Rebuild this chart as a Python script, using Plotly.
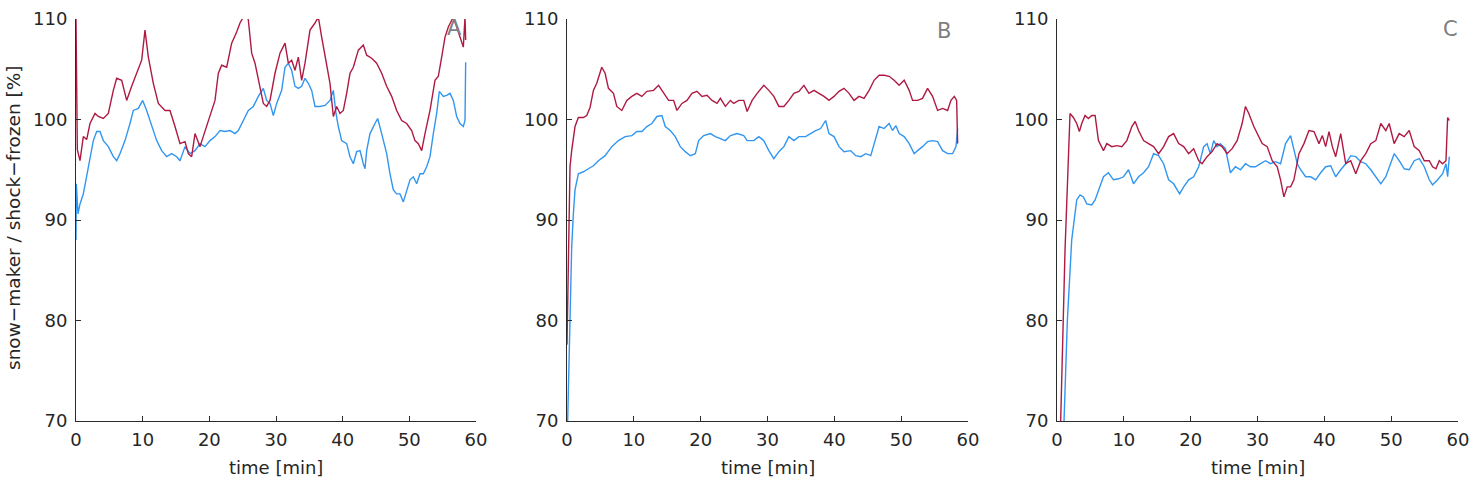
import plotly.graph_objects as go

# ---------------- data (time in minutes, values in %) ----------------
a_red_t = [0, 0.2, 0.6, 1.1, 1.6, 2.1, 2.85, 3.35, 4.1, 4.85, 5.6, 6.1, 6.85, 7.6, 8.35, 9.1, 9.85, 10.35,
           10.85, 11.6, 12.35, 13.35, 14.1, 14.85, 15.6, 16.35, 16.85, 17.35, 17.85, 18.6, 19.35, 20.1,
           20.85, 21.35, 21.85, 22.6, 23.35, 24.1, 24.6, 25.1, 25.6, 25.85, 26.35, 26.85, 27.35, 28.1,
           28.6, 29.1, 29.85, 30.6, 31.35, 31.85, 32.35, 32.85, 33.35, 33.85, 34.35, 35.1, 35.85, 36.35,
           36.85, 37.35, 38.1, 38.6, 39.1, 39.6, 40.1, 40.6, 41.1, 41.6, 42.35, 43.1, 43.6, 44.35, 45.1,
           45.85, 46.6, 47.35, 48.1, 48.85, 49.6, 50.35, 50.85, 51.35, 51.85, 52.35, 53.1, 53.85, 54.35,
           54.85, 55.35, 55.85, 56.6, 57.6, 58.1, 58.35, 58.45]
a_red_v = [110, 97, 95.9, 98.3, 98, 99.6, 100.6, 100.3, 100.1, 100.6, 102.9, 104.1, 103.9, 101.9, 103.3,
           104.6, 105.9, 108.9, 106.2, 103.6, 101.6, 100.9, 100.9, 99.3, 97.6, 97.8, 96.6, 96.3, 98.6,
           97.3, 98.9, 100.3, 101.9, 104.6, 105.4, 105.2, 107.6, 108.7, 109.6, 110.2, 110.6, 109.9,
           106.6, 105.6, 103.9, 101.6, 101.3, 101.9, 104.6, 106.6, 107.6, 105.6, 105.9, 104.9, 106.2,
           103.9, 105.6, 108.9, 109.6, 110.2, 108.2, 106.2, 103.6, 100.3, 101.3, 100.6, 100.9, 102.6,
           104.6, 105.2, 106.9, 107.4, 106.4, 106.1, 105.6, 104.6, 103.3, 102.3, 100.9, 99.9, 99.6, 98.9,
           97.9, 97.6, 96.9, 98.6, 100.9, 103.9, 104.3, 106.2, 108.2, 109.2, 110.2, 108.2, 107.2, 110.2,
           107.9]

a_blue_t = [0, 0.05, 0.3, 0.6, 1.1, 1.6, 2.1, 2.6, 3.1, 3.6, 4.1, 4.85, 5.6, 6.1, 6.6, 7.35, 8.1, 8.6, 9.35,
            10.0, 10.6, 11.35, 12.1, 12.85, 13.6, 14.35, 15.1, 15.6, 16.35, 17.1, 17.85, 18.6, 19.35,
            20.1, 20.85, 21.6, 22.35, 23.1, 23.85, 24.35, 25.1, 25.85, 26.6, 27.35, 28.1, 28.6, 29.1,
            29.6, 30.1, 30.85, 31.35, 31.85, 32.35, 32.85, 33.35, 33.85, 34.35, 34.85, 35.35, 35.85,
            36.6, 37.35, 38.1, 38.6, 39.0, 39.35, 39.85, 40.6, 41.1, 41.6, 42.1, 42.6, 43.1, 43.35, 43.6,
            44.1, 44.85, 45.25, 45.85, 46.6, 47.1, 47.6, 48.1, 48.6, 49.1, 49.6, 50.1, 50.6, 51.1, 51.6,
            52.1, 52.6, 53.1, 53.6, 54.1, 54.5, 55.1, 55.6, 56.1, 56.6, 57.1, 57.6, 58.1, 58.35, 58.45]
a_blue_v = [88, 93.6, 90.6, 91.6, 92.6, 94.3, 96.3, 97.9, 98.8, 98.8, 97.9, 97.3, 96.3, 95.9, 96.6, 97.9,
            99.6, 100.9, 101.1, 101.9, 100.9, 99.3, 97.9, 96.9, 96.3, 96.6, 96.3, 95.9, 97.3, 96.6, 96.9,
            97.6, 97.3, 97.9, 98.3, 98.9, 98.8, 98.9, 98.6, 98.9, 99.9, 100.9, 101.3, 102.3, 103.1,
            101.9, 101.6, 100.4, 101.6, 102.9, 105.2, 105.6, 104.9, 103.3, 103.1, 103.3, 104.1, 103.6,
            102.9, 101.3, 101.3, 101.4, 101.9, 102.9, 100.6, 99.3, 97.9, 97.6, 96.3, 95.6, 96.8, 96.9,
            95.6, 95.1, 96.9, 98.6, 99.6, 100.1, 98.6, 96.6, 94.6, 93.0, 92.6, 92.6, 91.8, 93.0, 94.0,
            94.3, 93.6, 94.6, 94.6, 95.3, 96.3, 98.6, 100.6, 102.8, 102.3, 102.4, 102.6, 101.9, 100.3,
            99.6, 99.3, 99.9, 105.7]

b_red_t = [0, 0.45, 0.7, 1.2, 1.7, 2.45, 2.95, 3.45, 3.95, 4.45, 5.2, 5.7, 6.2, 6.95, 7.45, 8.2, 8.95,
           9.7, 10.45, 11.2, 11.95, 12.95, 13.7, 14.45, 15.2, 15.95, 16.45, 17.2, 17.95, 18.7, 19.45,
           20.2, 20.95, 21.7, 22.45, 22.95, 23.7, 24.45, 24.95, 25.7, 26.45, 26.95, 27.7, 28.45, 29.45,
           30.2, 30.95, 31.7, 32.45, 33.2, 33.95, 34.7, 35.45, 36.2, 36.95, 37.7, 38.45, 39.2, 39.95,
           40.7, 41.45, 42.2, 42.95, 43.7, 44.45, 45.2, 45.95, 46.7, 47.45, 48.2, 48.95, 49.7, 50.45,
           51.2, 51.7, 52.45, 53.2, 53.95, 54.7, 55.45, 56.2, 56.95, 57.45, 57.95, 58.3, 58.45]
b_red_v = [77.6, 95.3, 96.9, 99.3, 100.2, 100.2, 100.4, 101.2, 102.9, 103.6, 105.2, 104.6, 103.1, 102.6,
           101.3, 100.9, 101.9, 102.3, 102.6, 102.3, 102.8, 102.9, 103.4, 102.6, 101.9, 101.9, 100.9,
           101.6, 101.9, 102.6, 102.8, 102.3, 102.4, 101.9, 101.6, 102.1, 101.3, 101.9, 101.6, 101.9,
           101.9, 100.8, 101.9, 102.6, 103.4, 102.9, 102.3, 101.3, 101.3, 101.9, 102.6, 102.8, 103.4,
           102.6, 102.9, 102.6, 102.3, 101.9, 102.3, 102.8, 103.1, 102.6, 101.9, 102.3, 102.1, 102.9,
           103.9, 104.4, 104.4, 104.3, 103.9, 103.4, 103.9, 102.9, 101.9, 101.9, 102.1, 103.1, 102.3,
           100.9, 101.1, 100.9, 101.9, 102.3, 101.9, 97.6]

b_blue_t = [0.1, 0.7, 0.95, 1.2, 1.7, 2.45, 3.2, 3.95, 4.7, 5.7, 6.7, 7.7, 8.7, 9.7, 10.45, 11.2, 11.95,
            12.7, 13.45, 14.2, 14.7, 15.45, 16.2, 16.95, 17.7, 18.45, 19.2, 19.7, 20.45, 21.45, 22.2,
            22.95, 23.7, 24.45, 25.45, 26.45, 26.95, 27.95, 28.7, 29.45, 30.2, 30.95, 31.7, 32.45, 33.2,
            33.95, 34.7, 35.7, 36.45, 37.2, 37.95, 38.7, 39.2, 39.95, 40.7, 41.45, 42.45, 43.2, 43.95,
            44.7, 45.45, 46.2, 46.7, 47.45, 48.2, 48.7, 49.2, 49.7, 50.45, 51.2, 51.95, 52.45, 53.2,
            53.95, 54.7, 55.45, 56.2, 56.95, 57.7, 58.2, 58.45]
b_blue_v = [70, 87.3, 90.6, 93.0, 94.6, 94.8, 95.1, 95.4, 95.9, 96.4, 97.3, 97.9, 98.3, 98.4, 98.8, 98.8,
            99.3, 99.6, 100.3, 100.4, 99.3, 98.9, 98.3, 97.3, 96.8, 96.4, 96.6, 97.9, 98.4, 98.6, 98.3,
            98.1, 97.9, 98.4, 98.6, 98.4, 97.9, 97.9, 98.3, 97.9, 96.9, 96.1, 96.8, 97.3, 98.3, 97.9,
            98.3, 98.3, 98.6, 98.9, 99.1, 99.9, 98.6, 98.3, 97.3, 96.8, 96.9, 96.4, 96.3, 96.6, 96.4,
            98.3, 99.3, 99.1, 99.6, 98.9, 99.4, 98.6, 98.3, 97.6, 96.6, 96.9, 97.3, 97.8, 97.9, 97.8,
            96.9, 96.6, 96.6, 97.3, 99.1]

c_red_t = [0.55, 1.2, 1.95, 2.45, 2.95, 3.35, 3.7, 4.2, 4.7, 5.2, 5.7, 6.2, 6.95, 7.45, 8.2, 8.95, 9.7,
           10.45, 11.2, 11.7, 12.2, 12.95, 13.7, 14.45, 15.2, 15.95, 16.7, 17.45, 18.2, 18.95, 19.7,
           20.45, 21.2, 21.7, 22.45, 23.2, 23.95, 24.7, 25.45, 26.2, 26.95, 27.7, 28.2, 28.7, 29.45,
           30.2, 30.7, 31.45, 32.2, 32.95, 33.45, 33.95, 34.45, 34.95, 35.45, 36.2, 36.95, 37.7, 38.45,
           39.2, 39.7, 40.2, 40.7, 41.2, 41.7, 42.45, 43.2, 43.95, 44.7, 45.45, 46.2, 46.95, 47.7, 48.45,
           49.2, 49.7, 50.45, 51.2, 51.95, 52.7, 53.45, 54.2, 54.95, 55.7, 56.2, 56.7, 57.2, 57.7, 58.2,
           58.45, 58.7]
c_red_v = [70, 87, 100.6, 100.2, 99.6, 98.8, 99.6, 100.4, 100.1, 100.4, 100.4, 97.9, 96.9, 97.6, 97.3,
           97.4, 97.3, 97.9, 99.3, 99.8, 98.9, 97.9, 97.6, 97.3, 96.6, 97.3, 98.3, 98.6, 97.6, 97.3,
           96.6, 97.1, 95.9, 95.6, 96.3, 96.8, 97.6, 97.3, 96.6, 97.1, 97.9, 99.6, 101.3, 100.6, 99.3,
           98.3, 97.6, 97.3, 95.9, 95.3, 94.0, 92.3, 93.3, 93.3, 94.0, 96.6, 97.6, 98.9, 98.8, 97.6,
           98.4, 97.3, 98.8, 97.3, 96.3, 98.6, 95.6, 95.9, 94.6, 95.9, 96.6, 97.6, 97.9, 99.6, 98.9,
           99.6, 97.6, 98.6, 98.3, 98.9, 97.3, 96.9, 95.9, 95.9, 95.3, 95.1, 95.9, 95.6, 95.9, 100.2,
           99.9]

c_blue_t = [1.05, 1.55, 2.2, 2.45, 2.95, 3.45, 3.95, 4.45, 5.2, 5.7, 6.2, 6.95, 7.7, 8.45, 9.2, 9.95,
            10.7, 11.45, 12.2, 12.95, 13.7, 14.45, 15.2, 15.95, 16.7, 17.45, 18.35, 18.95, 19.7, 20.45,
            21.2, 21.95, 22.45, 22.95, 23.45, 23.95, 24.45, 25.2, 25.95, 26.7, 27.45, 28.2, 28.95, 29.7,
            30.45, 31.2, 31.95, 32.7, 33.45, 34.2, 34.95, 35.45, 35.95, 36.45, 37.2, 37.95, 38.7, 39.45,
            40.2, 40.95, 41.7, 42.45, 43.2, 43.95, 44.7, 45.45, 46.2, 46.95, 47.7, 48.45, 49.2, 49.95,
            50.45, 51.2, 51.95, 52.7, 53.45, 54.2, 54.95, 55.7, 56.2, 56.95, 57.7, 58.2, 58.45, 58.7]
c_blue_v = [70, 80, 88, 89.3, 92.0, 92.5, 92.3, 91.6, 91.5, 92.0, 93.0, 94.3, 94.7, 94.0, 94.1, 94.3,
            95.0, 93.6, 94.3, 94.7, 95.3, 96.6, 96.4, 95.6, 94.0, 93.6, 92.6, 93.3, 94.0, 94.3, 95.3,
            97.3, 97.6, 96.6, 97.9, 97.3, 97.6, 97.1, 94.7, 95.3, 95.0, 95.6, 95.3, 95.3, 95.6, 95.9,
            95.6, 95.8, 95.6, 97.6, 98.4, 96.9, 95.6, 95.0, 94.3, 94.3, 94.0, 94.7, 95.3, 95.4, 94.3,
            95.0, 95.6, 96.4, 96.3, 95.8, 95.6, 95.0, 94.3, 93.6, 94.3, 95.6, 96.6, 95.9, 95.1, 95.0,
            95.9, 96.1, 95.3, 94.0, 93.5, 94.0, 94.6, 95.6, 94.3, 96.3]

x_ticks = [0, 10, 20, 30, 40, 50, 60]
y_ticks = [70, 80, 90, 100, 110]
panel_labels = ["A", "B", "C"]
x_title = "time [min]"
y_title = "snow\u2212maker / shock\u2212frozen [%]"

RED = "#AE1A42"
BLUE = "#3296F0"
AXIS = "#2b2b2b"
TXT = "#262626"
FONT = "DejaVu Sans, sans-serif"

W, H = 1472, 493
x_px = [(76, 476), (567, 968), (1057, 1458)]
x_domains = [(a / W, b / W) for a, b in x_px]
y_domain = (1 - 421 / H, 1 - 19 / H)
label_pos = [(454, 28), (944, 31), (1450, 29)]

panels = [
    (a_blue_t, a_blue_v, a_red_t, a_red_v),
    (b_blue_t, b_blue_v, b_red_t, b_red_v),
    (c_blue_t, c_blue_v, c_red_t, c_red_v),
]

fig = go.Figure()
layout = dict(
    width=W, height=H,
    margin=dict(l=0, r=0, t=0, b=0),
    paper_bgcolor="white", plot_bgcolor="white",
    showlegend=False,
    font=dict(family=FONT, size=18, color=TXT),
)

annotations = []
for i, (bt, bv, rt, rv) in enumerate(panels):
    sfx = "" if i == 0 else str(i + 1)
    xa, ya = "x" + sfx, "y" + sfx
    fig.add_trace(go.Scatter(x=bt, y=bv, mode="lines", line=dict(color=BLUE, width=1.4),
                             xaxis=xa, yaxis=ya, hoverinfo="skip"))
    fig.add_trace(go.Scatter(x=rt, y=rv, mode="lines", line=dict(color=RED, width=1.4),
                             xaxis=xa, yaxis=ya, hoverinfo="skip"))
    layout["xaxis" + sfx] = dict(
        domain=list(x_domains[i]), anchor=ya, range=[0, 60],
        tickvals=x_ticks, ticks="inside", ticklen=5, tickcolor=AXIS,
        showline=True, linecolor=AXIS, linewidth=1, showgrid=False, zeroline=False,
        tickfont=dict(size=18, color=TXT, family=FONT), automargin=False,
        ticklabelstandoff=2,
    )
    layout["yaxis" + sfx] = dict(
        domain=list(y_domain), anchor=xa, range=[70, 110],
        tickvals=y_ticks, ticks="inside", ticklen=5, tickcolor=AXIS,
        showline=True, linecolor=AXIS, linewidth=1, showgrid=False, zeroline=False,
        tickfont=dict(size=18, color=TXT, family=FONT), automargin=False,
        ticklabelstandoff=4,
    )
    lx, ly = label_pos[i]
    annotations.append(dict(
        text=panel_labels[i], xref="paper", yref="paper",
        x=lx / W, y=1 - ly / H, xanchor="center", yanchor="middle", showarrow=False,
        font=dict(size=21, color="#7f7f7f", family=FONT),
    ))
    annotations.append(dict(
        text=x_title, xref="paper", yref="paper",
        x=(x_px[i][0] + x_px[i][1]) / 2 / W, y=1 - 467 / H,
        xanchor="center", yanchor="middle", showarrow=False,
        font=dict(size=18, color=TXT, family=FONT),
    ))

annotations.append(dict(
    text=y_title, xref="paper", yref="paper", x=13 / W, y=1 - 218 / H,
    xanchor="center", yanchor="middle", textangle=-90, showarrow=False,
    font=dict(size=18.5, color=TXT, family=FONT),
))
layout["annotations"] = annotations
fig.update_layout(**layout)
fig.write_html("out.html")
